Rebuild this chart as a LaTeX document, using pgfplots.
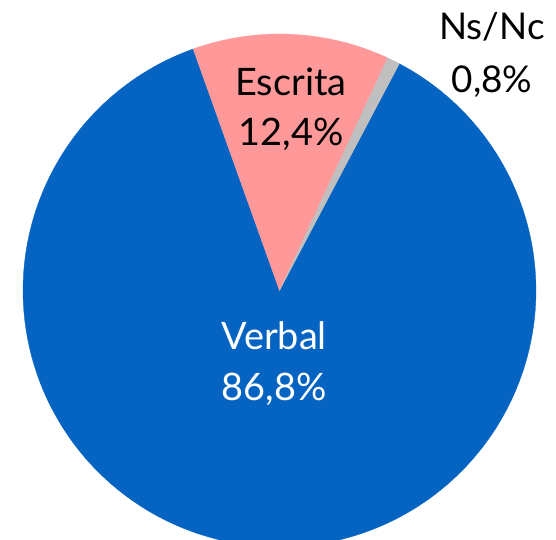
\documentclass[border=0pt]{standalone}
\usepackage{pgfplots}
\pgfplotsset{compat=1.18}
\usepackage{fontspec}
\setmainfont{Lato}
\definecolor{cBlue}{RGB}{5,99,193}
\definecolor{cPink}{RGB}{255,153,153}
\definecolor{cGray}{RGB}{191,191,191}
% slice values (percent)
\def\vEsc{12.4}
\def\vNs{0.8}
\def\vVer{86.8}
\def\aStart{109.67}
\def\cx{279.5}
\def\cy{249.5}
\def\rr{256.5}
\begin{document}
\begin{tikzpicture}
\pgfmathsetmacro{\aA}{\aStart}
\pgfmathsetmacro{\aB}{\aA-\vEsc*3.6}
\pgfmathsetmacro{\aC}{\aB-\vNs*3.6}
\pgfmathsetmacro{\aD}{\aC-\vVer*3.6}
\begin{axis}[
  width=556bp, height=540bp, scale only axis,
  xmin=0, xmax=556, ymin=0, ymax=540,
  hide axis, clip=true,
]
\addplot[fill=cBlue, draw=cBlue, line width=0.3pt, domain=\aD:\aC, samples=200, variable=\t]
  ({\cx+\rr*cos(\t)},{\cy+\rr*sin(\t)}) -- (axis cs:\cx,\cy) -- cycle;
\addplot[fill=cPink, draw=cPink, line width=0.3pt, domain=\aB:\aA, samples=40, variable=\t]
  ({\cx+\rr*cos(\t)},{\cy+\rr*sin(\t)}) -- (axis cs:\cx,\cy) -- cycle;
\addplot[fill=cGray, draw=cGray, line width=0.3pt, domain=\aC:\aB, samples=5, variable=\t]
  ({\cx+\rr*cos(\t)},{\cy+\rr*sin(\t)}) -- (axis cs:\cx,\cy) -- cycle;
\node[align=center, font=\fontsize{38}{50}\selectfont, text=black] at (axis cs:291,431) {Escrita\\12,4\%};
\node[align=center, font=\fontsize{37}{54}\selectfont, text=black] at (axis cs:492,485) {Ns/Nc\\0,8\%};
\node[align=center, font=\fontsize{38}{51}\selectfont, text=white] at (axis cs:274,176) {Verbal\\86,8\%};
\end{axis}
\pgfresetboundingbox
\useasboundingbox (current axis.south west) rectangle (current axis.north east);
\end{tikzpicture}
\end{document}
